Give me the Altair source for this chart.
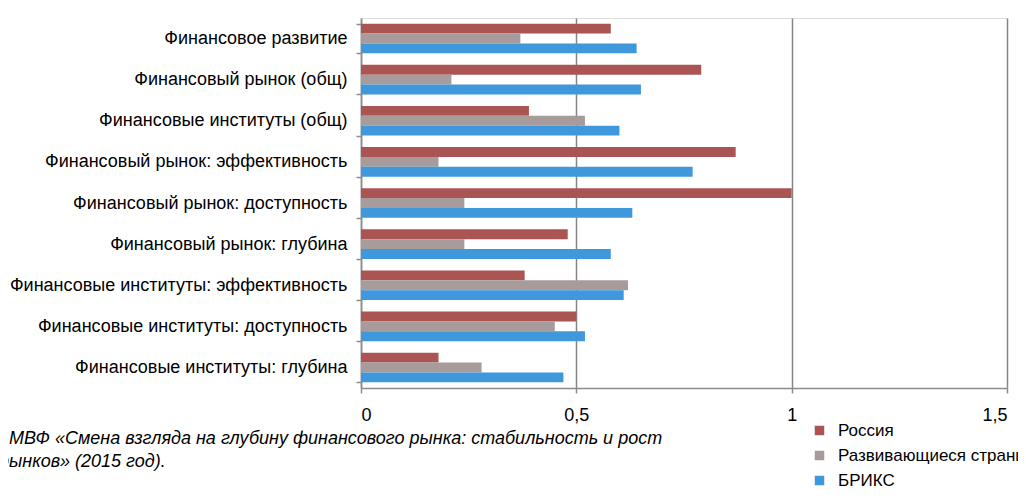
import altair as alt
import pandas as pd

categories = [
    "Финансовое развитие",
    "Финансовый рынок (общ)",
    "Финансовые институты (общ)",
    "Финансовый рынок: эффективность",
    "Финансовый рынок: доступность",
    "Финансовый рынок: глубина",
    "Финансовые институты: эффективность",
    "Финансовые институты: доступность",
    "Финансовые институты: глубина",
]
series = ["Россия", "Развивающиеся страны", "БРИКС"]
russia = [0.58, 0.79, 0.39, 0.87, 1.00, 0.48, 0.38, 0.50, 0.18]
developing = [0.37, 0.21, 0.52, 0.18, 0.24, 0.24, 0.62, 0.45, 0.28]
brics = [0.64, 0.65, 0.60, 0.77, 0.63, 0.58, 0.61, 0.52, 0.47]
x_ticks = [0, 0.5, 1, 1.5]
colors = ["#AB5454", "#A89B9B", "#3F97DC"]
source_line1 = "МВФ «Смена взгляда на глубину финансового рынка: стабильность и рост"
source_line2 = "рынков» (2015 год)."

rows = []
for i, c in enumerate(categories):
    for s, vals in zip(series, [russia, developing, brics]):
        rows.append({"cat": c, "series": s, "value": vals[i]})
df = pd.DataFrame(rows)

FONT = "Liberation Sans"

bars = alt.Chart(df).mark_bar().encode(
    y=alt.Y("cat:N", sort=categories, title=None,
            scale=alt.Scale(paddingInner=0.28, paddingOuter=0.14),
            axis=alt.Axis(tickBand="extent", domainColor="#8C8C8C", tickColor="#8C8C8C",
                          domainWidth=1.5, tickWidth=1.5, tickSize=5,
                          labelFont=FONT, labelFontSize=18, labelColor="#000000",
                          labelPadding=9, labelLimit=400)),
    yOffset=alt.YOffset("series:N", sort=series),
    x=alt.X("value:Q", title=None,
            scale=alt.Scale(domain=[0, 1.5], nice=False),
            axis=alt.Axis(values=x_ticks, grid=True, gridColor="#868686", gridWidth=1.5,
                          domainColor="#8C8C8C", domainWidth=1.5, tickColor="#8C8C8C",
                          tickWidth=1.5, tickSize=5, labelPadding=13,
                          labelFont=FONT, labelFontSize=18, labelColor="#000000",
                          labelExpr="replace(format(datum.value, '.1~f'), '.', ',')")),
    color=alt.Color("series:N", sort=series,
                    scale=alt.Scale(domain=series, range=colors),
                    legend=alt.Legend(title=None, orient="none", legendX=450, legendY=404,
                                      symbolType="square", symbolSize=90,
                                      symbolStrokeWidth=0, labelFont=FONT,
                                      labelFontSize=17, labelColor="#000000",
                                      rowPadding=7, padding=0, labelLimit=400,
                                      labelOffset=10)),
)

src1 = alt.Chart(pd.DataFrame({"t": [source_line1]})).mark_text(
    align="left", baseline="middle", font=FONT, fontSize=18, fontStyle="italic", color="#000000"
).encode(text="t:N", x=alt.value(-352), y=alt.value(421))

src2 = alt.Chart(pd.DataFrame({"t": [source_line2]})).mark_text(
    align="left", baseline="middle", font=FONT, fontSize=18, fontStyle="italic", color="#000000"
).encode(text="t:N", x=alt.value(-362), y=alt.value(444))

chart = alt.layer(bars, src1, src2).properties(
    width=646, height=370,
    autosize=alt.AutoSizeParams(type="none"),
    padding={"left": 353, "top": 10, "right": 11, "bottom": 100},
).configure_view(stroke=None).configure(background="#ffffff")

chart.save("out.html", embed_options={"renderer": "svg", "actions": False})
